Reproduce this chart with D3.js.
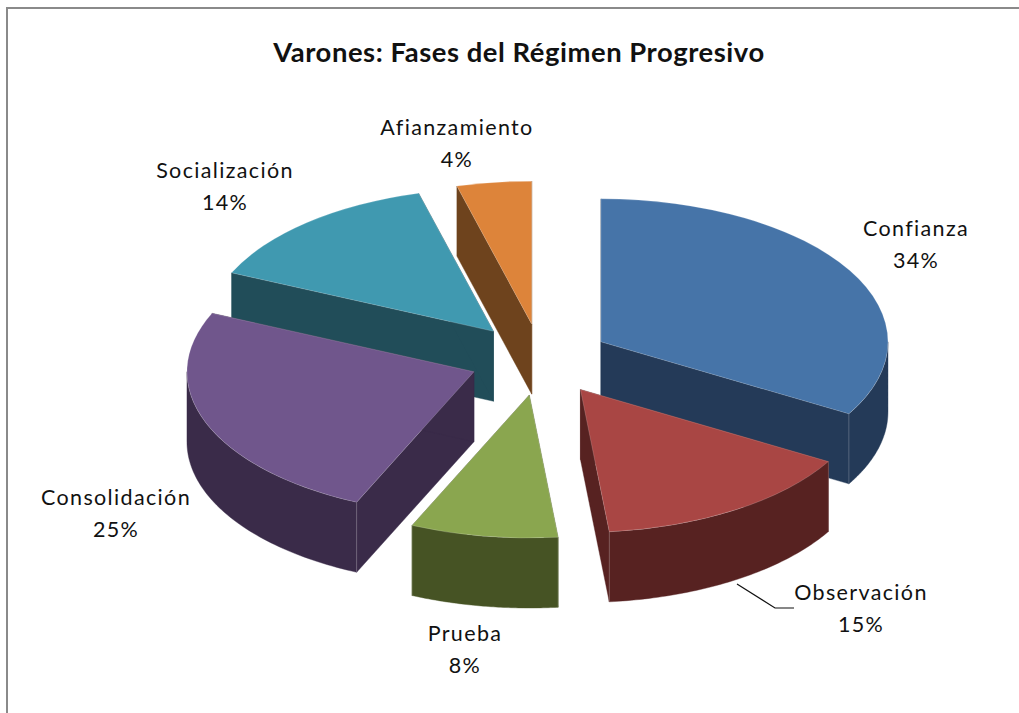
<!DOCTYPE html>
<html>
<head>
<meta charset="utf-8">
<script src="https://cdn.jsdelivr.net/npm/d3@7"></script>
<style>
html,body{margin:0;padding:0;background:#fff;overflow:hidden}
svg{display:block}
text{font-family:Lato,"Open Sans",sans-serif;fill:#111}
</style>
</head>
<body>
<script>
const chartTitle = "Varones: Fases del Régimen Progresivo";
const categories = ["Confianza","Observación","Prueba","Consolidación","Socialización","Afianzamiento"];
const values = [33.4,15,8.3,25,14.1,4.2];
const percentLabels = ["34%","15%","8%","25%","14%","4%"];
const topColors = ["#4674a8","#a94644","#8aa64f","#70568c","#4099b0","#dd843a"];
const sideColors = ["#243a58","#572221","#465324","#3a2b49","#214d59","#6e431d"];
const explodeFactors = [0.241,0.254,0.255,0.25,0.255,0.246];
const paintOrder = [5,0,4,3,1,2];
const labelCentres = [[916,236],[861,600],[465,641],[116,505],[225,178],[457,135]];

const W = 1019, H = 713;
const cx = 541, cy = 359, rx = 287, ry = 143, depth = 70;

const svg = d3.select("body").append("svg").attr("width",W).attr("height",H);

// chart frame: top and left edges only are visible in the window
svg.append("path").attr("d",d3.line()([[7,H],[7,8],[W,8]]))
  .attr("fill","none").attr("stroke","#8a8a8a").attr("stroke-width",2);

svg.append("text").attr("x",519).attr("y",62).attr("text-anchor","middle")
  .attr("font-size",27.4).attr("font-weight",700).attr("letter-spacing",0.55).text(chartTitle);

const pie = d3.pie().sort(null).value(d=>d);
const arcs = pie(values);
const arcGen = d3.arc().innerRadius(0).outerRadius(rx);
const px = (o,a,dz=0)=>[o[0]+rx*Math.sin(a), o[1]-ry*Math.cos(a)+dz];

const g = svg.append("g");
paintOrder.forEach(i=>{
  const s = arcs[i];
  const mid = (s.startAngle+s.endAngle)/2;
  const explode = explodeFactors[i];
  const o = [cx+explode*rx*Math.sin(mid), cy-explode*ry*Math.cos(mid)];
  const side = sideColors[i];
  const sl = g.append("g");
  const poly = pts=>sl.append("path").attr("d",d3.line()(pts)+"Z").attr("fill",side).attr("stroke",side).attr("stroke-width",0.4);

  // radial walls
  [s.startAngle,s.endAngle].forEach(a=>{
    const e = px(o,a);
    poly([o,e,[e[0],e[1]+depth],[o[0],o[1]+depth]]);
  });
  // outer wall, front half only
  const a0 = Math.max(s.startAngle,Math.PI/2), a1 = Math.min(s.endAngle,Math.PI*1.5);
  if(a1>a0){
    const as = d3.range(0,61).map(k=>a0+(a1-a0)*k/60);
    poly(as.map(a=>px(o,a)).concat(as.slice().reverse().map(a=>px(o,a,depth))));
    // seam where outer wall meets a radial wall
    [s.startAngle,s.endAngle].forEach(a=>{
      if(a>Math.PI/2 && a<Math.PI*1.5){
        const e = px(o,a);
        sl.append("line").attr("x1",e[0]).attr("y1",e[1]).attr("x2",e[0]).attr("y2",e[1]+depth)
          .attr("stroke","#fff").attr("stroke-opacity",0.25).attr("stroke-width",0.8);
      }
    });
  }
  // top face
  sl.append("path").attr("d",arcGen(s))
    .attr("transform",`translate(${o[0]},${o[1]}) scale(1,${ry/rx})`)
    .attr("fill",topColors[i])
    .attr("stroke","#fff").attr("stroke-opacity",0.3).attr("stroke-width",0.8);
});

// labels
categories.forEach((c,i)=>{
  const [x,y] = labelCentres[i];
  [c, percentLabels[i]].forEach((t,k)=>{
    svg.append("text").attr("x",x).attr("y",y+k*31.5).attr("text-anchor","middle")
      .attr("font-size",21.5).attr("letter-spacing",1.35).text(t);
  });
});

// leader line for Observación
svg.append("path").attr("d",d3.line()([[737,584],[775,608],[794,608]]))
  .attr("fill","none").attr("stroke","#111").attr("stroke-width",1.2);
</script>
</body>
</html>
